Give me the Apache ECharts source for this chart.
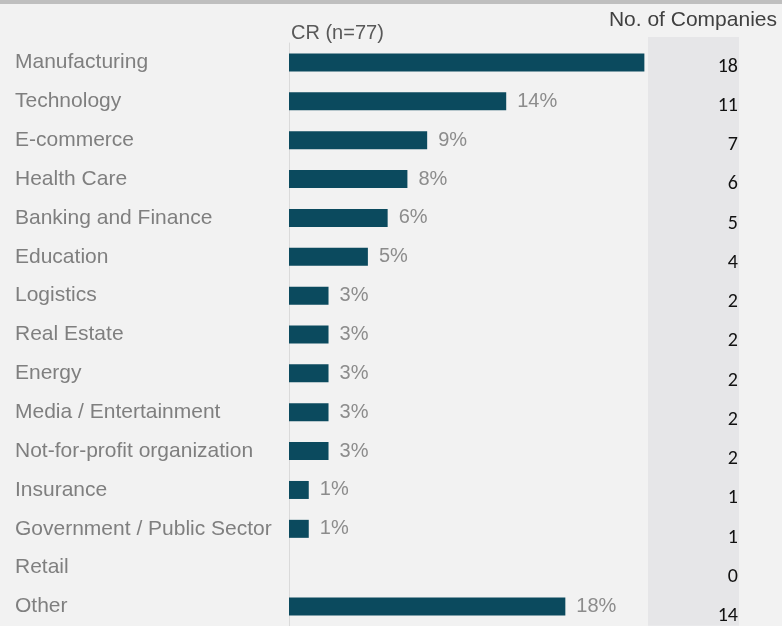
<!DOCTYPE html>
<html>
<head>
<meta charset="utf-8">
<script src="https://cdn.jsdelivr.net/npm/echarts@6/dist/echarts.min.js"></script>
<style>
  html, body { margin: 0; padding: 0; background: #f2f2f2; }
  #chart { width: 782px; height: 626px; }
</style>
</head>
<body>
<div id="chart"></div>
<script>
// Industry breakdown of respondents (n = 77)
const industries = [
  'Manufacturing', 'Technology', 'E-commerce', 'Health Care', 'Banking and Finance',
  'Education', 'Logistics', 'Real Estate', 'Energy', 'Media / Entertainment',
  'Not-for-profit organization', 'Insurance', 'Government / Public Sector', 'Retail', 'Other'
];
// share of companies, percent
const sharePct = [23.38, 14.29, 9.09, 7.79, 6.49, 5.19, 2.60, 2.60, 2.60, 2.60, 2.60, 1.30, 1.30, 0, 18.18];
// number of companies per industry
const companyCounts = ['18', '11', '7', '6', '5', '4', '2', '2', '2', '2', '2', '1', '1', '0', '14'];

const chart = echarts.init(document.getElementById('chart'), null, { renderer: 'canvas' });

const barData = sharePct.map((v, i) => ({
  value: v,
  // the top bar runs into the count column, so its label is left off
  label: { show: i !== 0 && v > 0 }
}));

chart.setOption({
  backgroundColor: '#f2f2f2',
  animation: false,
  title: [
    {
      text: 'CR (n=77)', left: 286, top: 18,
      textStyle: { fontFamily: 'Liberation Sans, Arial, sans-serif', fontSize: 20, fontWeight: 'normal', color: '#595959' }
    },
    {
      text: 'No. of Companies', right: 0, top: 5,
      textStyle: { fontFamily: 'Liberation Sans, Arial, sans-serif', fontSize: 21, fontWeight: 'normal', color: '#404040' }
    }
  ],
  graphic: [
    { type: 'rect', shape: { x: 0, y: 0, width: 782, height: 4 }, style: { fill: '#bfbfbf' }, silent: true }
  ],
  grid: [
    { left: 289, width: 456, top: 43, height: 587 },
    { left: 648, width: 91, top: 37, height: 592, show: true, backgroundColor: '#e6e6e8', borderWidth: 0 }
  ],
  xAxis: [
    { type: 'value', gridIndex: 0, min: 0, max: 30, show: false },
    { type: 'value', gridIndex: 1, min: 0, max: 1, show: false }
  ],
  yAxis: [
    {
      type: 'category', gridIndex: 0, data: industries, inverse: true,
      axisLine: { show: true, lineStyle: { color: '#dadada', width: 1 } },
      axisTick: { show: false },
      splitLine: { show: false },
      axisLabel: {
        align: 'left', margin: 274,
        fontFamily: 'Liberation Sans, Arial, sans-serif', fontSize: 21, color: '#7f7f7f'
      }
    },
    {
      type: 'category', gridIndex: 1, data: companyCounts, inverse: true, position: 'right',
      axisLine: { show: false }, axisTick: { show: false }, splitLine: { show: false },
      axisLabel: {
        align: 'right', margin: -1, verticalAlign: 'top',
        fontFamily: 'Carlito, Open Sans, sans-serif', fontSize: 20, color: '#111111'
      }
    }
  ],
  series: [
    {
      type: 'bar', xAxisIndex: 0, yAxisIndex: 0,
      data: barData,
      barWidth: 18,
      itemStyle: { color: '#0b4a5e' },
      label: {
        position: 'right', distance: 11,
        fontFamily: 'Liberation Sans, Arial, sans-serif', fontSize: 20, color: '#8c8c8c',
        formatter: p => Math.round(p.value) + '%'
      }
    }
  ]
});
</script>
</body>
</html>
